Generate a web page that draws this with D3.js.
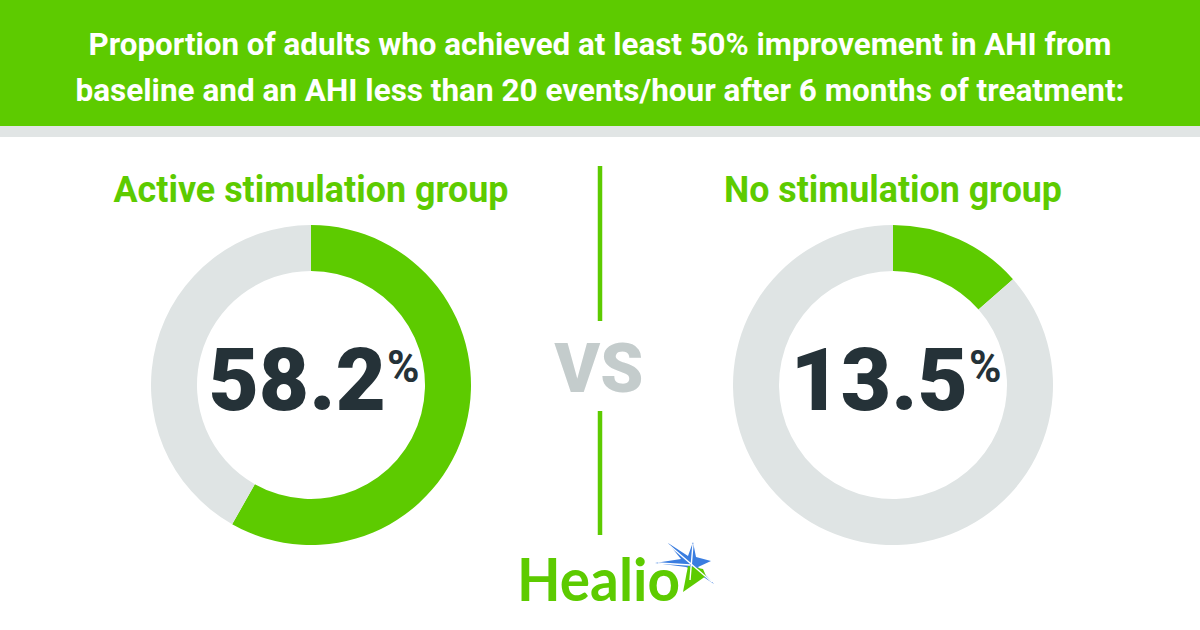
<!DOCTYPE html>
<html>
<head>
<meta charset="utf-8">
<script src="https://cdn.jsdelivr.net/npm/d3@7"></script>
<style>
  html, body { margin: 0; padding: 0; background: #ffffff; }
  svg { display: block; }
</style>
</head>
<body>
<svg id="chart" width="1200" height="630"></svg>
<script>
// ---- data ----
const titleLines = [
  "Proportion of adults who achieved at least 50% improvement in AHI from",
  "baseline and an AHI less than 20 events/hour after 6 months of treatment:"
];
const groups = ["Active stimulation group", "No stimulation group"];
const values = [58.2, 13.5];
const valueLabels = ["58.2", "13.5"];
const compareLabel = "VS";
const brand = "Healio";

// ---- styles ----
const GREEN = "#5dcb00";
const GRAY = "#dfe4e4";
const DARK = "#253238";
const VSGRAY = "#c4cccc";

const svg = d3.select("#chart");
const W = 1200, H = 630;

// header
svg.append("rect").attr("x", 0).attr("y", 0).attr("width", W).attr("height", 126).attr("fill", GREEN);
svg.append("rect").attr("x", 0).attr("y", 126).attr("width", W).attr("height", 11).attr("fill", "#e1e5e5");

const titleY = [55, 101];
const titleLen = [1023, 1049];
svg.selectAll("text.title").data(titleLines).enter().append("text")
  .attr("class", "title")
  .attr("x", W / 2)
  .attr("y", (d, i) => titleY[i])
  .attr("text-anchor", "middle")
  .attr("textLength", (d, i) => titleLen[i])
  .attr("lengthAdjust", "spacingAndGlyphs")
  .attr("font-family", "Roboto, sans-serif")
  .attr("font-weight", 700)
  .attr("font-size", 31)
  .attr("fill", "#ffffff")
  .text(d => d);

// scales
const x = d3.scaleOrdinal().domain(groups).range([311, 893]);
const cy = 385;
const outerR = 160, innerR = 114;

const pie = d3.pie().sort(null).value(d => d);
const arc = d3.arc().innerRadius(innerR).outerRadius(outerR);

const labelLen = [395, 338];
groups.forEach((g, i) => {
  const cx = x(g);
  // group label
  svg.append("text")
    .attr("x", cx)
    .attr("y", 202)
    .attr("text-anchor", "middle")
    .attr("textLength", labelLen[i])
    .attr("lengthAdjust", "spacingAndGlyphs")
    .attr("font-family", "Roboto, sans-serif")
    .attr("font-weight", 700)
    .attr("font-size", 36)
    .attr("fill", GREEN)
    .text(g);

  const gg = svg.append("g").attr("transform", `translate(${cx},${cy})`);
  gg.selectAll("path").data(pie([values[i], 100 - values[i]])).enter().append("path")
    .attr("d", arc)
    .attr("fill", (d, j) => j === 0 ? GREEN : GRAY);

  // value label with superscript %, one text element
  const t = gg.append("text")
    .attr("x", 3)
    .attr("y", 25)
    .attr("text-anchor", "middle")
    .attr("font-family", "Roboto, sans-serif")
    .attr("fill", DARK);
  t.append("tspan")
    .attr("font-weight", 900)
    .attr("font-size", 87)
    .text(valueLabels[i]);
  t.append("tspan")
    .attr("font-weight", 700)
    .attr("font-size", 44)
    .attr("dx", 1)
    .attr("dy", -28)
    .text("%");
});

// divider
svg.append("line").attr("x1", 600).attr("x2", 600).attr("y1", 166).attr("y2", 321)
  .attr("stroke", GREEN).attr("stroke-width", 4.5);
svg.append("line").attr("x1", 600).attr("x2", 600).attr("y1", 411).attr("y2", 535)
  .attr("stroke", GREEN).attr("stroke-width", 4.5);
svg.append("text")
  .attr("x", 599)
  .attr("y", 392)
  .attr("text-anchor", "middle")
  .attr("font-family", "Roboto, sans-serif")
  .attr("font-weight", 900)
  .attr("font-size", 69)
  .attr("fill", VSGRAY)
  .text(compareLabel);

// brand logo
svg.append("text")
  .attr("x", 517)
  .attr("y", 601)
  .attr("textLength", 163)
  .attr("lengthAdjust", "spacingAndGlyphs")
  .attr("font-family", "Lato, sans-serif")
  .attr("font-weight", 700)
  .attr("font-size", 59)
  .attr("fill", GREEN)
  .text(brand);

const star = svg.append("g");
star.append("path")
  .attr("d", "M655,563 L681,559 L668,543 L688,556 L693,542 L696,557 L711,561 L698,567 L714,584 L693,570 L686,567 Z")
  .attr("fill", "#3a7de0");
star.append("path")
  .attr("d", "M688,566 L703,569 L706,576 L683,592 Z")
  .attr("fill", GREEN);
star.append("path")
  .attr("d", "M669,545 L712,582 M693,544 L690,580 M658,563 L690,565")
  .attr("stroke", "#ffffff").attr("stroke-width", 1.4).attr("fill", "none");
</script>
</body>
</html>
